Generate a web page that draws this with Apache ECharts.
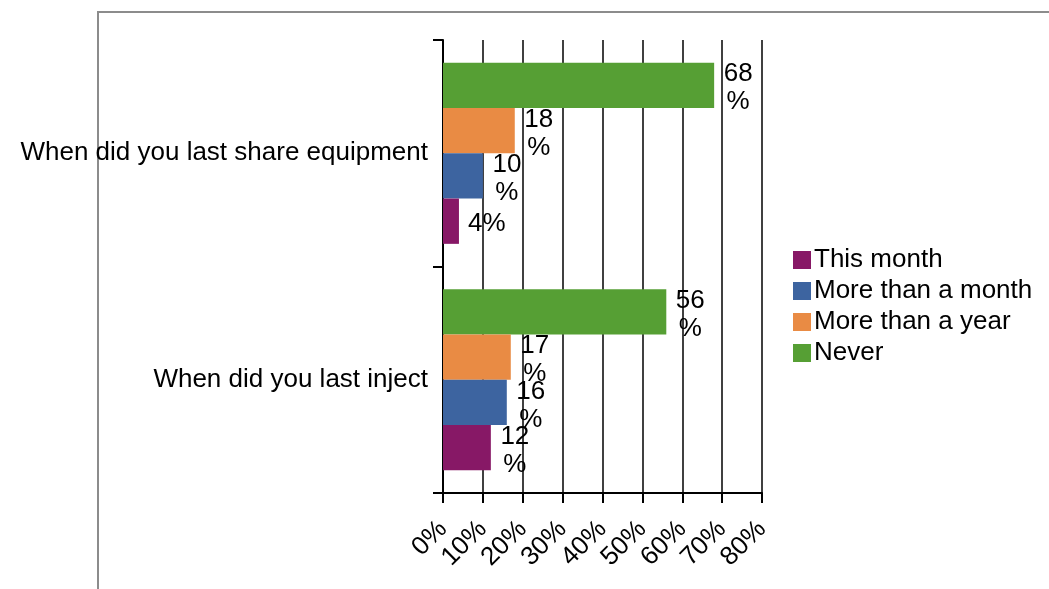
<!DOCTYPE html>
<html>
<head>
<meta charset="utf-8">
<script src="https://cdn.jsdelivr.net/npm/echarts@6/dist/echarts.min.js"></script>
<style>
  html, body { margin: 0; padding: 0; background: #fff; }
  #chart { width: 1049px; height: 589px; }
</style>
</head>
<body>
<div id="chart"></div>
<script>
var categories = ['When did you last inject', 'When did you last share equipment'];
var seriesNames = ['This month', 'More than a month', 'More than a year', 'Never'];
var thisMonth = [12, 4];
var moreThanMonth = [16, 10];
var moreThanYear = [17, 18];
var never = [56, 68];
var colors = ['#871866', '#3D64A0', '#E98B44', '#569F34'];

var chart = echarts.init(document.getElementById('chart'));

var font = 'Liberation Sans, Arial, sans-serif';

function makeSeries(name, data, color) {
  return {
    name: name,
    type: 'bar',
    data: data,
    itemStyle: { color: color },
    barGap: '0%',
    barCategoryGap: '20%',
    label: {
      show: true,
      position: 'right',
      distance: 9,
      offset: [0, 3],
      color: '#000',
      fontFamily: font,
      fontSize: 26,
      lineHeight: 28,
      // narrow labels wrap the % onto a second line, centred under the number
      formatter: function (p) {
        return p.value < 10 ? p.value + '%' : '{n|' + p.value + '}\n{n|%}';
      },
      rich: {
        n: { width: 30, align: 'center', fontSize: 26, lineHeight: 28, fontFamily: font, color: '#000' }
      }
    }
  };
}

var option = {
  backgroundColor: '#ffffff',
  animation: false,
  textStyle: { fontFamily: font },
  graphic: [{
    type: 'polyline',
    shape: { points: [[98, 589], [98, 12], [1049, 12]] },
    style: { stroke: '#8c8c8c', lineWidth: 2, fill: null },
    silent: true
  }],
  grid: {
    left: 443,
    right: 287,
    top: 40,
    bottom: 96,
    containLabel: false
  },
  legend: {
    orient: 'vertical',
    left: 788,
    top: 241,
    itemWidth: 18,
    itemHeight: 18,
    itemGap: 3,
    icon: 'rect',
    textStyle: { fontSize: 26, lineHeight: 28, color: '#000', fontFamily: font, padding: [0, 0, 0, -2] },
    data: seriesNames
  },
  xAxis: {
    type: 'value',
    min: 0,
    max: 80,
    interval: 10,
    axisLine: { show: true, lineStyle: { color: '#000', width: 2 } },
    axisTick: { show: true, length: 10, lineStyle: { color: '#000', width: 2 } },
    splitLine: { show: true, lineStyle: { color: '#000', width: 1.5 } },
    axisLabel: {
      formatter: '{value}%',
      rotate: 45,
      margin: 32,
      fontSize: 26,
      color: '#000',
      fontFamily: font
    }
  },
  yAxis: {
    type: 'category',
    data: categories,
    axisLine: { show: true, lineStyle: { color: '#000', width: 2 } },
    axisTick: { show: true, length: 10, lineStyle: { color: '#000', width: 2 } },
    axisLabel: {
      margin: 15,
      fontSize: 26,
      color: '#000',
      fontFamily: font
    }
  },
  // first series is drawn at the top of each group, so list them reversed
  series: [
    makeSeries(seriesNames[3], never, colors[3]),
    makeSeries(seriesNames[2], moreThanYear, colors[2]),
    makeSeries(seriesNames[1], moreThanMonth, colors[1]),
    makeSeries(seriesNames[0], thisMonth, colors[0])
  ]
};

chart.setOption(option);
</script>
</body>
</html>
